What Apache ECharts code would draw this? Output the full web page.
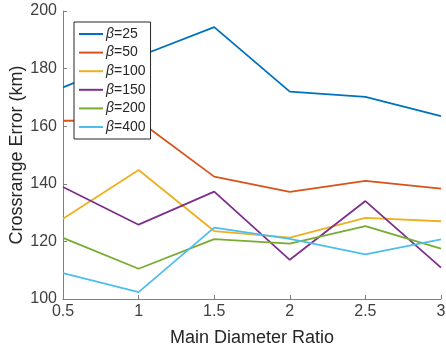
<!DOCTYPE html>
<html><head><meta charset="utf-8">
<script src="https://cdn.jsdelivr.net/npm/echarts@6/dist/echarts.min.js"></script>
<style>html,body{margin:0;padding:0;background:#fff}#c{width:446px;height:354px}</style>
</head><body><div id="c"></div>
<script>
const xValues = [0.5, 1, 1.5, 2, 2.5, 3];
const seriesNames = ['β=25', 'β=50', 'β=100', 'β=150', 'β=200', 'β=400'];
const beta25 = [173.5, 184.2, 194.4, 172.0, 170.2, 163.5];
const beta50 = [161.9, 162.0, 142.5, 137.2, 141.0, 138.3];
const beta100 = [127.9, 144.8, 123.6, 121.3, 128.2, 127.0];
const beta150 = [138.9, 125.8, 137.3, 113.6, 134.0, 110.9];
const beta200 = [121.2, 110.5, 120.8, 119.2, 125.3, 117.5];
const beta400 = [109.0, 102.4, 124.8, 120.9, 115.5, 120.7];
const allValues = [beta25, beta50, beta100, beta150, beta200, beta400];
const colors = ['#0072BD', '#D95319', '#EDB120', '#7E2F8E', '#77AC30', '#4DBEEE'];

const chart = echarts.init(document.getElementById('c'), null, {renderer: 'canvas'});
const font = 'Liberation Sans, Arial, Helvetica, sans-serif';
chart.setOption({
  animation: false,
  backgroundColor: '#fff',
  color: colors,
  grid: {left: 63, right: 5, top: 11, bottom: 55, containLabel: false, outerBoundsMode: 'none'},
  legend: {
    orient: 'vertical', left: 74, top: 22,
    backgroundColor: '#fff', borderColor: '#262626', borderWidth: 1,
    padding: [4, 5, 4, 5], itemGap: 2.6, itemWidth: 24, itemHeight: 2,
    icon: 'rect',
    data: seriesNames,
    formatter: n => '{i|β}' + n.slice(1),
    textStyle: {
      fontFamily: font, fontSize: 14, color: '#262626', lineHeight: 16, padding: [0,0,0,-2],
      rich: {i: {fontFamily: font, fontSize: 14, fontStyle: 'italic', color: '#262626', lineHeight: 16}}
    }
  },
  xAxis: {
    type: 'value', min: 0.5, max: 3, interval: 0.5,
    name: 'Main Diameter Ratio', nameLocation: 'middle', nameGap: 30,
    nameTextStyle: {fontFamily: font, fontSize: 18, color: '#262626'},
    axisLine: {lineStyle: {color: '#7f7f7f', width: 1}},
    axisTick: {inside: true, length: 4, lineStyle: {color: '#7f7f7f'}},
    axisLabel: {fontFamily: font, fontSize: 16, color: '#404040', margin: 5},
    splitLine: {show: false}
  },
  yAxis: {
    type: 'value', min: 100, max: 200, interval: 20,
    name: 'Crossrange Error (km)', nameLocation: 'middle', nameGap: 37, nameMoveOverlap: false,
    nameTextStyle: {fontFamily: font, fontSize: 18, color: '#262626'},
    axisLine: {show: true, lineStyle: {color: '#7f7f7f', width: 1}},
    axisTick: {show: true, inside: true, length: 4, lineStyle: {color: '#7f7f7f'}},
    axisLabel: {fontFamily: font, fontSize: 16, color: '#404040', margin: 6},
    splitLine: {show: false}
  },
  series: seriesNames.map((n, i) => ({
    name: n, type: 'line', symbol: 'none',
    lineStyle: {width: 1.8, color: colors[i]},
    itemStyle: {color: colors[i]},
    data: xValues.map((x, j) => [x, allValues[i][j]])
  }))
});
</script></body></html>
